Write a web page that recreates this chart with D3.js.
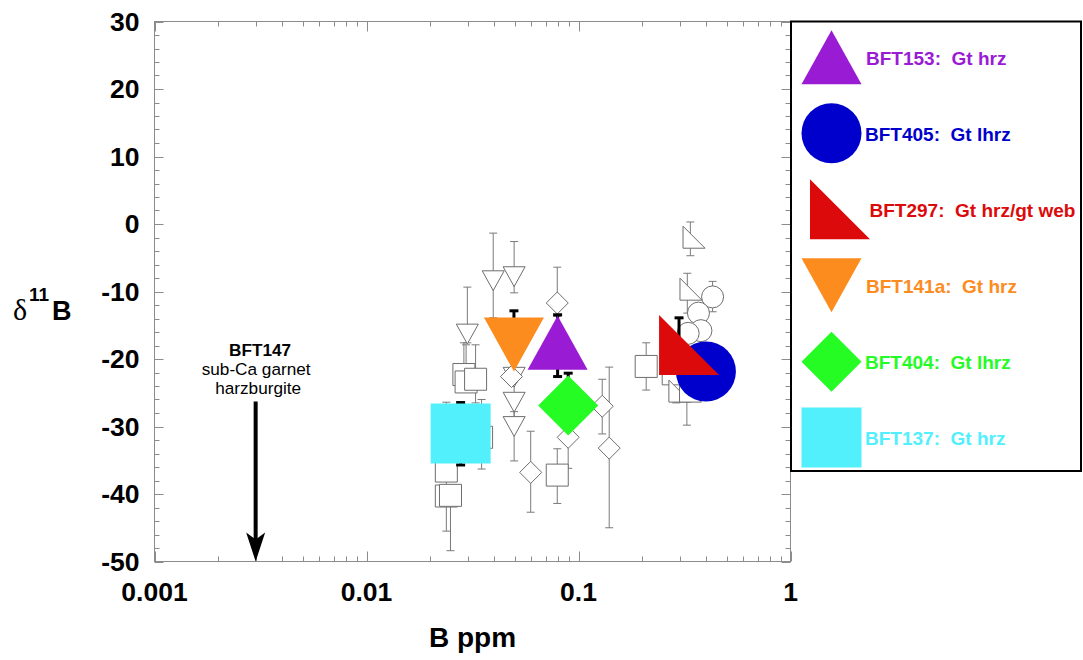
<!DOCTYPE html>
<html>
<head>
<meta charset="utf-8">
<script src="https://cdn.jsdelivr.net/npm/d3@7"></script>
<style>
  body { margin: 0; background: #ffffff; }
  svg { display: block; font-family: "Liberation Sans", Arial, Helvetica, sans-serif; }
</style>
</head>
<body>
<svg id="chart" width="1083" height="660"></svg>
<script>
// ---- axis definitions ----
const xDomain = [0.001, 1];
const yDomain = [-50, 30];
const xTickLabels = ["0.001", "0.01", "0.1", "1"];
const yTickLabels = [30, 20, 10, 0, -10, -20, -30, -40, -50];

// ---- literature / comparison data (open symbols) ----
// each row: [B ppm, d11B, lower error end, upper error end] (null = no bar on that side)
const openDownTriangles = [
  [0.0396,  -8.4, -13.9,  -1.35],
  [0.0497,  -7.8, -10.2,  -2.6],
  [0.0299, -16.3, -17.6,  -9.35],
  [0.0497, -22.7,  null,   null],
  [0.0497, -26.4, -29.4, -23.4],
  [0.0497, -30.0, -35.1, -27.8]
];
const openDiamonds = [
  [0.0794, -11.7, -13.7,  -6.4],
  [0.0483, -22.6,  null,   null],
  [0.0595, -36.8, -42.7, -30.7],
  [0.0894, -31.6, -36.2, -27.0],
  [0.1294, -27.0, -31.1, -23.0],
  [0.1396, -33.2, -45.0, -21.2]
];
const openSquares = [
  [0.0288, -22.3,  null, -17.6],
  [0.0295, -23.4,  null, -17.9],
  [0.0327, -23.0, -26.5, -17.9],
  [0.0349, -31.6, -36.3, -26.0],
  [0.0238, -36.6, -40.0, -26.4],
  [0.0238, -40.3, -45.5,  null],
  [0.0249, -40.2, -48.4,  null],
  [0.0794, -37.2, -41.4, -33.3],
  [0.2086, -21.1, -24.6, -17.6],
  [0.2797, -22.2,  null,   null]
];
const openRightTriangles = [
  [0.337,   -2.5,  -4.7,   0.3],
  [0.326,  -10.2, -13.2,  -7.3],
  [0.289,  -25.3, -26.5,  null],
  [0.3245, -25.3, -29.8,  null]
];
const openCircles = [
  [0.429, -10.8, -13.0, -8.5],
  [0.368, -13.2,  null,  null],
  [0.378, -15.8,  null,  null],
  [0.329, -16.2,  null,  null]
];

// ---- garnet samples (filled symbols) ----
const sampleNames  = ["BFT137", "BFT404", "BFT141a", "BFT153", "BFT405", "BFT297"];
const sampleLabels = ["Gt hrz", "Gt lhrz", "Gt hrz", "Gt hrz", "Gt lhrz", "Gt hrz/gt web"];
const sampleShapes = ["square", "diamond", "down", "up", "circle", "rightTri"];
const sampleColors = ["#52effd", "#24fc24", "#fd8c1f", "#9a1bd4", "#0000cc", "#dc0a0a"];
const sampleB      = [0.0278, 0.0894, 0.0496, 0.0797, 0.399, 0.298];
const sampleD11B   = [-31.05, -26.9, -17.85, -17.6, -21.85, -19.4];
const sampleErrLo  = [-35.7, null, null, -22.6, null, null];
const sampleErrHi  = [-26.45, -22.1, -12.86, -13.45, null, -13.9];
// legend listing order
const legendOrder = ["BFT153", "BFT405", "BFT297", "BFT141a", "BFT404", "BFT137"];

// ---- BFT147 (B below the plotted range) ----
const bft147B = 0.003;
const bft147ArrowFrom = -26.3;
const bft147Lines = ["BFT147", "sub-Ca garnet", "harzburgite"];

// ---- layout ----
const plot = { left: 154.5, right: 790.5, top: 21.5, bottom: 561.5 };
const svg = d3.select("#chart");
svg.append("rect").attr("width", 1083).attr("height", 660).attr("fill", "#fff");

const x = d3.scaleLog().domain(xDomain).range([plot.left, plot.right]);
const y = d3.scaleLinear().domain(yDomain).range([plot.bottom, plot.top]);

// ---- frame with inward ticks on all sides ----
const frameColor = "#8c8c8c";
const axisG = svg.append("g").attr("stroke", frameColor).attr("stroke-width", 1).attr("fill", "none");
axisG.append("rect")
  .attr("x", plot.left).attr("y", plot.top)
  .attr("width", plot.right - plot.left).attr("height", plot.bottom - plot.top);

const yTicks = d3.range(yDomain[0], yDomain[1] + 0.001, 2);
yTicks.forEach(v => {
  const major = v % 10 === 0;
  const len = major ? 9 : 5;
  const yy = Math.round(y(v)) + 0.5;
  axisG.append("line").attr("x1", plot.left).attr("x2", plot.left + len).attr("y1", yy).attr("y2", yy);
  axisG.append("line").attr("x1", plot.right).attr("x2", plot.right - len).attr("y1", yy).attr("y2", yy);
});
const xTicks = x.ticks();
xTicks.forEach(v => {
  const lg = Math.log10(v);
  const major = Math.abs(lg - Math.round(lg)) < 1e-9;
  const len = major ? 10 : 5;
  const xx = Math.round(x(v)) + 0.5;
  axisG.append("line").attr("x1", xx).attr("x2", xx).attr("y1", plot.bottom).attr("y2", plot.bottom - len);
  axisG.append("line").attr("x1", xx).attr("x2", xx).attr("y1", plot.top).attr("y2", plot.top + len);
});

// ---- tick labels ----
const labelFont = 26.5;
svg.append("g").selectAll("text").data(yTickLabels).join("text")
  .attr("x", plot.left - 15).attr("y", d => y(d)).attr("dy", "0.35em")
  .attr("text-anchor", "end").attr("font-size", labelFont).attr("font-weight", "bold")
  .attr("fill", "#000").text(d => d);
svg.append("g").selectAll("text").data(xTickLabels).join("text")
  .attr("x", d => x(+d)).attr("y", 601)
  .attr("text-anchor", "middle").attr("font-size", labelFont).attr("font-weight", "bold")
  .attr("fill", "#000").text(d => d);

// ---- axis titles ----
svg.append("text").attr("x", (plot.left + plot.right) / 2).attr("y", 647)
  .attr("text-anchor", "middle").attr("font-size", 28).attr("font-weight", "bold").text("B ppm");
const yTitle = svg.append("g");
yTitle.append("text").attr("x", 13).attr("y", 320)
  .attr("font-family", "'Liberation Serif', 'Times New Roman', serif").attr("font-size", 30).text("δ");
yTitle.append("text").attr("x", 29).attr("y", 301)
  .attr("font-size", 19).attr("font-weight", "bold").text("11");
yTitle.append("text").attr("x", 52).attr("y", 320)
  .attr("font-size", 27).attr("font-weight", "bold").text("B");

// ---- symbol geometry ----
function symbolPath(shape, cx, cy, s) {
  const h = s / 2;
  switch (shape) {
    case "up": {
      const t = s * 0.45;
      return `M${cx - h},${cy + t}L${cx + h},${cy + t}L${cx},${cy - t}Z`;
    }
    case "down": {
      const t = s * 0.45;
      return `M${cx - h},${cy - t}L${cx + h},${cy - t}L${cx},${cy + t}Z`;
    }
    case "square":
      return `M${cx - h},${cy - h}H${cx + h}V${cy + h}H${cx - h}Z`;
    case "diamond":
      return `M${cx},${cy - h}L${cx + h},${cy}L${cx},${cy + h}L${cx - h},${cy}Z`;
    case "circle":
      return `M${cx - h},${cy}A${h},${h} 0 1,0 ${cx + h},${cy}A${h},${h} 0 1,0 ${cx - h},${cy}Z`;
    case "rightTri": {
      // positioned on its centroid
      const L = cx - s / 3, T = cy - 2 * s / 3;
      return `M${L},${T}L${L},${T + s}L${L + s},${T + s}Z`;
    }
  }
}

// ---- error bars ----
function drawErrorBars(g, rows, color, width, cap) {
  rows.forEach(r => {
    const cx = x(r[0]), cy = y(r[1]);
    [r[2], r[3]].forEach(end => {
      if (end === null) return;
      const ey = y(end);
      g.append("line").attr("x1", cx).attr("x2", cx).attr("y1", cy).attr("y2", ey)
        .attr("stroke", color).attr("stroke-width", width);
      g.append("line").attr("x1", cx - cap / 2).attr("x2", cx + cap / 2).attr("y1", ey).attr("y2", ey)
        .attr("stroke", color).attr("stroke-width", width);
    });
  });
}

const openSize = 22;
const openStroke = "#6e6e6e";
const openGroups = [
  ["down", openDownTriangles],
  ["diamond", openDiamonds],
  ["square", openSquares],
  ["rightTri", openRightTriangles],
  ["circle", openCircles]
];

const errG = svg.append("g");
openGroups.forEach(([shape, rows]) => drawErrorBars(errG, rows, "#7a7a7a", 1, 8));

const openG = svg.append("g");
openGroups.forEach(([shape, rows]) => {
  openG.selectAll(null).data(rows).join("path")
    .attr("d", d => symbolPath(shape, x(d[0]), y(d[1]), openSize))
    .attr("fill", "#fff").attr("stroke", openStroke).attr("stroke-width", 1);
});

// ---- filled sample symbols ----
const sampleRows = sampleNames.map((n, i) => [sampleB[i], sampleD11B[i], sampleErrLo[i], sampleErrHi[i]]);
const sampleErrG = svg.append("g");
drawErrorBars(sampleErrG, sampleRows, "#000", 3, 9);

const bigSize = 60;
svg.append("g").selectAll("path").data(sampleNames).join("path")
  .attr("d", (n, i) => symbolPath(sampleShapes[i], x(sampleB[i]), y(sampleD11B[i]), bigSize))
  .attr("fill", (n, i) => sampleColors[i]);

// ---- BFT147 annotation arrow ----
const ax = x(bft147B);
const tipY = y(yDomain[0]);
svg.append("line").attr("x1", ax).attr("x2", ax)
  .attr("y1", y(bft147ArrowFrom)).attr("y2", tipY - 20)
  .attr("stroke", "#000").attr("stroke-width", 4);
svg.append("path")
  .attr("d", `M${ax},${tipY}L${ax - 9.5},${tipY - 29}L${ax},${tipY - 22}L${ax + 9.5},${tipY - 29}Z`)
  .attr("fill", "#000");
const noteG = svg.append("g").attr("text-anchor", "middle").attr("font-size", 17.2).attr("fill", "#000");
noteG.append("text").attr("x", ax + 4.5).attr("y", 356).attr("font-weight", "bold").text(bft147Lines[0]);
noteG.append("text").attr("x", ax + 0.5).attr("y", 375).text(bft147Lines[1]);
noteG.append("text").attr("x", ax + 2.5).attr("y", 394).text(bft147Lines[2]);

// ---- legend ----
const legendBox = { x: 791, y: 21.5, w: 290, h: 449.5 };
svg.append("rect").attr("x", legendBox.x).attr("y", legendBox.y)
  .attr("width", legendBox.w).attr("height", legendBox.h)
  .attr("fill", "none").attr("stroke", "#000").attr("stroke-width", 2);

const legendRowY = [57.3, 133.3, 219.3, 285.3, 361.7, 437.5];
const legendTextY = [65, 140.7, 217.3, 292.7, 369, 445];
const legendTextX = [866, 865, 869.5, 866, 865, 865];
legendOrder.forEach((name, k) => {
  const i = sampleNames.indexOf(name);
  const sx = sampleShapes[i] === "rightTri" ? 830 : 831.5;
  svg.append("path")
    .attr("d", symbolPath(sampleShapes[i], sx, legendRowY[k], bigSize))
    .attr("fill", sampleColors[i]);
  svg.append("text").attr("x", legendTextX[k]).attr("y", legendTextY[k])
    .attr("font-size", 19).attr("font-weight", "bold").attr("fill", sampleColors[i])
    .style("white-space", "pre")
    .text(`${name}:  ${sampleLabels[i]}`);
});
</script>
</body>
</html>
